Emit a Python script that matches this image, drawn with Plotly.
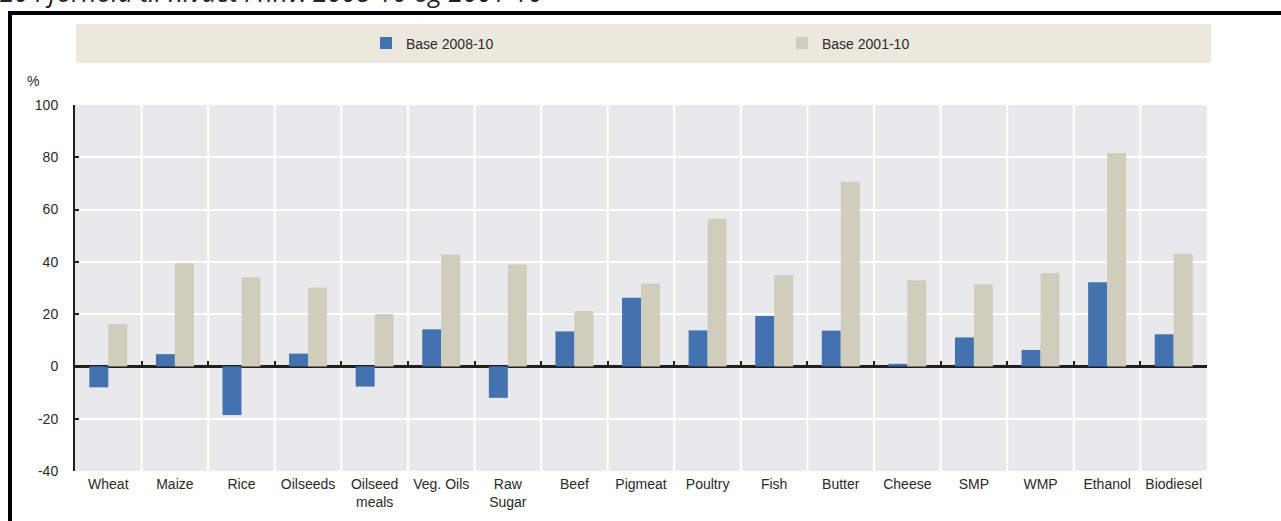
import plotly.graph_objects as go

categories = ["Wheat", "Maize", "Rice", "Oilseeds", "Oilseed<br>meals", "Veg. Oils",
              "Raw<br>Sugar", "Beef", "Pigmeat", "Poultry", "Fish", "Butter", "Cheese",
              "SMP", "WMP", "Ethanol", "Biodiesel"]
base_2008_10 = [-8, 4.7, -18.6, 4.9, -7.7, 14.2, -12, 13.4, 26.3, 13.8, 19.3, 13.7,
                1.0, 11.1, 6.3, 32.2, 12.3]
base_2001_10 = [16.2, 39.5, 34.1, 30.2, 20.1, 42.8, 39.0, 21.2, 31.7, 56.5, 34.9, 70.6,
                33.0, 31.3, 35.7, 81.6, 43.1]
series_names = ["Base 2008-10", "Base 2001-10"]
y_tickvals = [-40, -20, 0, 20, 40, 60, 80, 100]
y_ticktext = ["-40", "-20", "0", "20", "40", "60", "80", "100"]
caption = "20 i forhold til nivået i hhv. 2008-10 og 2001-10"

W, H = 1281, 521
ML, MR, MT, MB = 75, 74, 105, 50
PW, PH = W - ML - MR, H - MT - MB

def px_x(p):
    return (p - ML) / PW

def px_y(p):
    return (H - MB - p) / PH

FONT = "Liberation Sans, Arial, sans-serif"
DARK = "#231F20"
TXT = "#2a2a2a"
BLUE = "#4272B0"
BEIGE = "#D0CDBC"

idx = list(range(len(categories)))

fig = go.Figure()
fig.add_trace(go.Bar(x=idx, y=base_2008_10, name=series_names[0],
                     marker=dict(color=BLUE, line=dict(width=0))))
fig.add_trace(go.Bar(x=idx, y=base_2001_10, name=series_names[1],
                     marker=dict(color=BEIGE, line=dict(width=0))))
# helper (invisible) trace so the zero-line tick axis is drawn
fig.add_trace(go.Scatter(x=idx, y=[0] * len(idx), xaxis="x2", mode="none",
                         showlegend=False, hoverinfo="skip"))

fig.update_layout(
    width=W, height=H,
    margin=dict(l=ML, r=MR, t=MT, b=MB, autoexpand=False),
    paper_bgcolor="white",
    plot_bgcolor="#E9E9EC",
    barmode="group", bargap=0.43, bargroupgap=0,
    font=dict(family=FONT, size=14, color=TXT),
    showlegend=True,
    legend=dict(orientation="h", xref="container", yref="container",
                x=366 / W, xanchor="left", y=1 - 43.5 / H, yanchor="middle",
                bgcolor="rgba(0,0,0,0)", entrywidth=371, entrywidthmode="pixels",
                itemwidth=30, font=dict(family=FONT, size=14, color=TXT),
                traceorder="normal"),
    xaxis=dict(type="linear", range=[-0.5, len(categories) - 0.5],
               tickvals=idx, ticktext=categories, showgrid=False, zeroline=False,
               showline=False, ticks="", tickangle=0, automargin=False,
               tickfont=dict(size=14, color=TXT), ticklabelstandoff=3),
    xaxis2=dict(type="linear", overlaying="x", anchor="free", automargin=False,
                position=(0 - y_tickvals[0]) / (y_tickvals[-1] - y_tickvals[0]),
                range=[-0.5, len(categories) - 0.5],
                tickvals=[i + 0.5 for i in idx], ticks="inside", ticklen=5, tickwidth=1.5,
                tickcolor=DARK, showticklabels=False, showgrid=False, zeroline=False,
                showline=False),
    yaxis=dict(range=[y_tickvals[0], y_tickvals[-1]], tickvals=y_tickvals, ticktext=y_ticktext,
               showgrid=True, gridcolor="white", gridwidth=2, automargin=False,
               zeroline=True, zerolinecolor=DARK, zerolinewidth=2.5,
               showline=True, linecolor=DARK, linewidth=2,
               ticks="inside", ticklen=4, tickcolor=DARK, tickwidth=1.5,
               tickfont=dict(size=14, color=TXT), ticklabelstandoff=12),
)

# vertical white gridlines at category boundaries
shapes = []
for i in idx[:-1]:
    shapes.append(dict(type="line", xref="x", yref="paper", x0=i + 0.5, x1=i + 0.5,
                       y0=0, y1=1, line=dict(color="white", width=2), layer="below"))
# legend background band
shapes.append(dict(type="rect", xref="paper", yref="paper", x0=px_x(76), x1=px_x(1211),
                   y0=px_y(63), y1=px_y(24), fillcolor="#ECE8DE", line=dict(width=0),
                   layer="below"))
# black frame (top and left)
shapes.append(dict(type="line", xref="paper", yref="paper", x0=px_x(8), x1=px_x(1290),
                   y0=px_y(13), y1=px_y(13), line=dict(color="black", width=4)))
shapes.append(dict(type="line", xref="paper", yref="paper", x0=px_x(10), x1=px_x(10),
                   y0=px_y(11), y1=px_y(530), line=dict(color="black", width=4)))
fig.update_layout(shapes=shapes)

fig.add_annotation(text="%", xref="paper", yref="paper", x=px_x(33), y=px_y(81),
                   xanchor="center", yanchor="middle", showarrow=False,
                   font=dict(family=FONT, size=14, color=TXT))
fig.add_annotation(text="<i>" + caption + "</i>", xref="paper", yref="paper",
                   x=px_x(-2), y=px_y(12), xanchor="left", yanchor="bottom", showarrow=False,
                   font=dict(family="Open Sans, sans-serif", size=26, color="#222"))

fig.write_html("out.html", config={"displayModeBar": False},
               post_script="document.body.style.margin='0';")
